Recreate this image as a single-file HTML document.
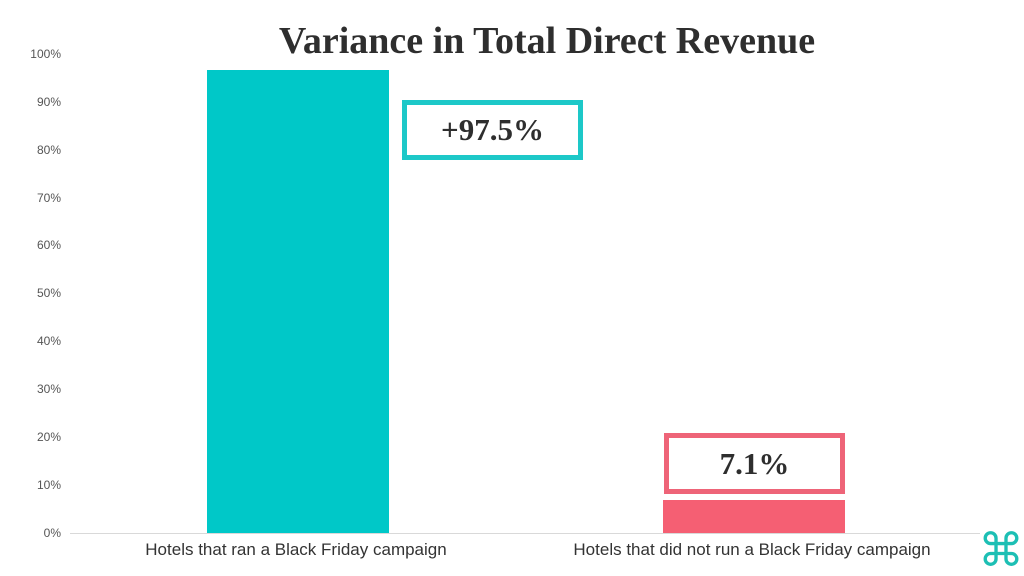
<!DOCTYPE html>
<html><head><style>
body{margin:0;width:1024px;height:575px;background:#fff;position:relative;overflow:hidden;font-family:"Liberation Sans",sans-serif}
.t{position:absolute;left:0;width:1094px;text-align:center;top:19px;font:bold 38px "Liberation Serif",serif;color:#2e2e2e}
.y{position:absolute;left:0;width:61px;text-align:right;font-size:12px;color:#555}
.b{position:absolute}
.box{position:absolute;box-sizing:border-box;background:#fff;text-align:center;font:bold 31px "Liberation Serif",serif;color:#2e2e2e}
.x{position:absolute;font-size:17px;color:#333;text-align:center}
</style></head><body>
<div class="t">Variance in Total Direct Revenue</div>
<div class="y" style="top:47px">100%</div>
<div class="y" style="top:95px">90%</div>
<div class="y" style="top:143px">80%</div>
<div class="y" style="top:191px">70%</div>
<div class="y" style="top:238px">60%</div>
<div class="y" style="top:286px">50%</div>
<div class="y" style="top:334px">40%</div>
<div class="y" style="top:382px">30%</div>
<div class="y" style="top:430px">20%</div>
<div class="y" style="top:478px">10%</div>
<div class="y" style="top:526px">0%</div>
<div class="b" style="left:70px;top:533px;width:910px;height:1px;background:#d9d9d9"></div>
<div class="b" style="left:207px;top:70px;width:182px;height:463px;background:#00c8c8"></div>
<div class="b" style="left:663px;top:500px;width:182px;height:33px;background:#f55f73"></div>
<div class="box" style="left:402px;top:100px;width:181px;height:60px;border:5px solid #1dc8c8;line-height:50px">+97.5%</div>
<div class="box" style="left:664px;top:433px;width:181px;height:61px;border:5px solid #ee6478;line-height:51px">7.1%</div>
<div class="x" style="left:96px;top:540px;width:400px">Hotels that ran a Black Friday campaign</div>
<div class="x" style="left:552px;top:540px;width:400px">Hotels that did not run a Black Friday campaign</div>
<div style="position:absolute;left:978px;top:527px;font-size:46px;color:#1dbfb4;line-height:46px">⌘</div>
</body></html>
